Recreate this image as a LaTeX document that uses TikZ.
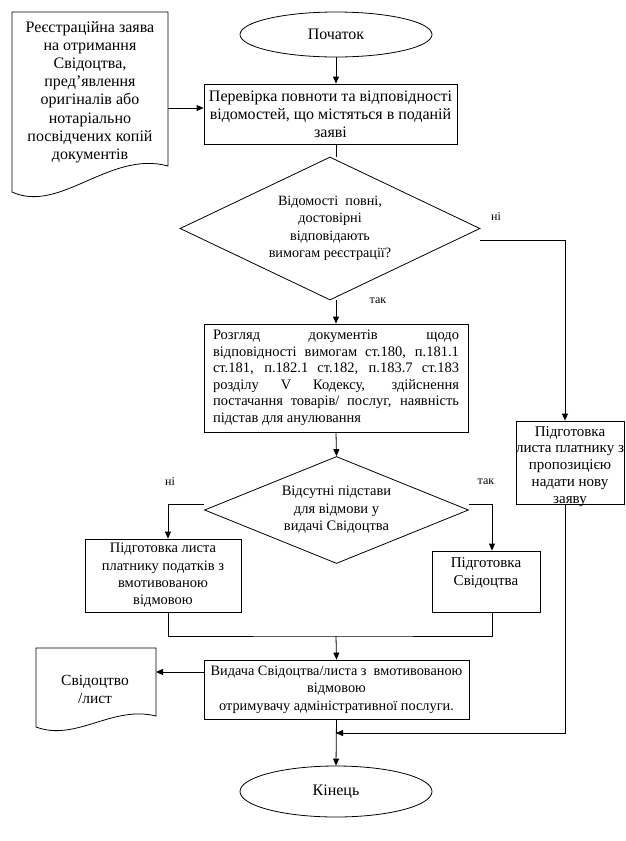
\documentclass[tikz,border=0pt]{standalone}
\usepackage{fontspec}
\setmainfont{Liberation Serif}
\usetikzlibrary{shapes.geometric,arrows.meta}

\begin{document}
\begin{tikzpicture}[x=1pt,y=-1pt,line width=0.8pt,
    font=\fontsize{15}{18}\selectfont,
    strilka/.style={-{Triangle[length=7pt,width=6pt]}},
    blok/.style={draw,align=center,inner sep=0pt},
    romb/.style={draw,diamond,align=center,inner sep=0pt},
    oval/.style={draw,ellipse,inner sep=0pt,minimum width=192,minimum height=45,font=\fontsize{16}{18}\selectfont},
    mitka/.style={font=\fontsize{12}{14}\selectfont}]
    \useasboundingbox (0,0) rectangle (625,841);
    \coordinate (os) at (336,0);
    \draw (12,12) -- (168,12) -- (168,166) .. controls (110,150) and (60,214) .. (12,192) -- cycle;
    \node [align=center,font=\fontsize{16}{18.2}\selectfont] (zaiava) at (90,92) {Реєстраційна заява\\на отримання\\Свідоцтва,\\пред’явлення\\оригіналів або\\нотаріально\\посвідчених копій\\документів};
    \coordinate (zaiavae) at (168,108);
    \node [oval] (pochatok) at (336,34.5) {Початок};
    \node [blok,minimum width=253,minimum height=60,font=\fontsize{16}{18}\selectfont] (perevirka) at (330.5,114) {Перевірка повноти та відповідності\\відомостей, що містяться в поданій\\заяві};
    \node [romb,minimum width=300,minimum height=143,aspect=2.1,font=\fontsize{14.2}{17.5}\selectfont] (povni) at (330,228.5) {Відомості\ \ повні,\\достовірні\\відповідають\\вимогам реєстрації?};
    \node [blok,minimum width=264,minimum height=108,text width=246,align=justify,font=\fontsize{14.5}{16.5}\selectfont] (rozghliad) at (336,378) {Розгляд документів щодо\linebreak відповідності вимогам ст.180, п.181.1\linebreak ст.181, п.182.1 ст.182, п.183.7 ст.183\linebreak розділу V Кодексу, здійснення\linebreak постачання товарів/ послуг, наявність\linebreak підстав для анулювання};
    \node [romb,minimum width=264,minimum height=107,aspect=2.47,font=\fontsize{14.5}{17.5}\selectfont] (pidstavy) at (336.5,510) {Відсутні підстави\\для відмови у\\видачі Свідоцтва};
    \node [blok,minimum width=108,minimum height=83] (novazaiava) at (570,462.5) {};
    \node [align=center,inner sep=0pt,font=\fontsize{15}{16.9}\selectfont] (novazaiavatekst) at ([yshift=-4pt]novazaiava.center) {Підготовка\\листа платнику з\\пропозицією\\надати нову\\заяву};
    \node [blok,minimum width=156,minimum height=73,font=\fontsize{14.5}{17.3}\selectfont] (vidmova) at (163,575.5) {Підготовка листа\\платнику податків з\\вмотивованою\\відмовою};
    \node [blok,minimum width=108,minimum height=61,text depth=20pt] (svidotstvo) at (486,581.5) {Підготовка\\Свідоцтва};
    \node [blok,minimum width=265,minimum height=59,font=\fontsize{14.3}{17.5}\selectfont] (vydacha) at (336.5,689.5) {Видача Свідоцтва/листа з\ \ вмотивованою\\відмовою\\отримувачу адміністративної послуги.};
    \draw (36,648) -- (156,648) -- (156,716) .. controls (112,705) and (76,742) .. (36,727) -- cycle;
    \node [align=center,font=\fontsize{15.5}{18}\selectfont] (lyst) at (95,689) {Свідоцтво\\/лист};
    \coordinate (lyste) at (156,672);
    \node [oval,minimum height=51] (kinets) at (336,791.5) {Кінець};
    \node [mitka] at (496,217) {ні};
    \node [mitka] at (378,301) {так};
    \node [mitka] at (170,482) {ні};
    \node [mitka] at (486,482) {так};
    \coordinate (zlyttia) at (336,636);
    \coordinate (povernennia) at (336,733);
    \draw [strilka] (pochatok.south) -- (os |- perevirka.north);
    \draw [strilka] (zaiavae) -- (zaiavae -| perevirka.west);
    \draw (os |- perevirka.south) -- (os |- povni.north);
    \draw [strilka] (os |- povni.south) -- (rozghliad.north);
    \draw [strilka] ([yshift=-12pt]povni.east) -| ([xshift=-5pt]novazaiava.north);
    \draw [strilka] (rozghliad.south) -- (pidstavy.north);
    \draw [strilka] ([yshift=6pt]pidstavy.west) -| ([xshift=5pt]vidmova.north);
    \draw [strilka] ([yshift=6pt]pidstavy.east) -| ([xshift=6pt]svidotstvo.north);
    \draw ([xshift=5pt]vidmova.south) |- (zlyttia) -| ([xshift=6pt]svidotstvo.south);
    \draw [strilka] (zlyttia) -- (vydacha.north);
    \draw [strilka] (lyste -| vydacha.west) -- (lyste);
    \draw [strilka] ([xshift=-5pt]novazaiava.south) |- (povernennia);
    \draw [strilka] (vydacha.south) -- (kinets.north);
\end{tikzpicture}
\end{document}
